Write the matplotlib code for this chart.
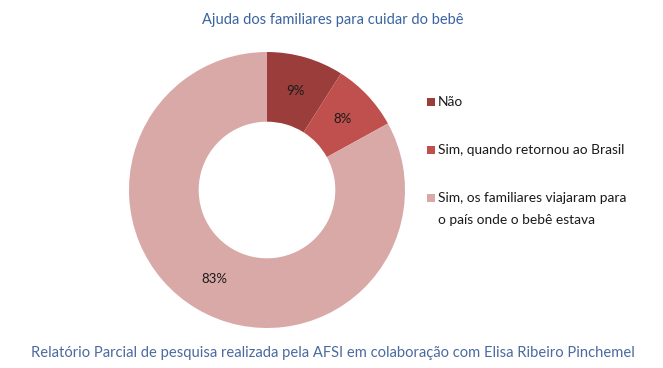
import matplotlib

matplotlib.use("Agg")
import matplotlib.pyplot as plt
from matplotlib.patches import Rectangle

plt.rcParams["font.family"] = ["Lato", "DejaVu Sans"]

# chart data
categories = [
    "Não",
    "Sim, quando retornou ao Brasil",
    "Sim, os familiares viajaram para\no país onde o bebê estava",
]
shares = [9, 8, 83]
pct_labels = ["9%", "8%", "83%"]
colors = ["#9A3D3B", "#C0504D", "#D9A9A8"]

title = "Ajuda dos familiares para cuidar do bebê"
footnote = ("Relatório Parcial de pesquisa realizada pela AFSI em colaboração "
            "com Elisa Ribeiro Pinchemel")

W, H = 663, 368
fig = plt.figure(figsize=(W / 100, H / 100), dpi=100)

# donut centred at (267, 190) px, radius 138 px
cx, cy, r = 267, 190, 138
ax = fig.add_axes([(cx - r) / W, (H - cy - r) / H, 2 * r / W, 2 * r / H])
wedges, texts = ax.pie(
    shares,
    colors=colors,
    startangle=90,
    counterclock=False,
    radius=1.0,
    wedgeprops=dict(width=0.505, edgecolor="none"),
    labels=pct_labels,
    labeldistance=0.75,
    textprops=dict(fontsize=9.5, color="#1a1a1a", ha="center", va="center"),
)
ax.set_xlim(-1, 1)
ax.set_ylim(-1, 1)
ax.set_aspect("equal")
ax.axis("off")

fig.text(333 / W, 1 - 20 / H, title, ha="center", va="center",
         fontsize=10.5, color="#3A64A0")
fig.text(333 / W, 1 - 353 / H, footnote, ha="center", va="center",
         fontsize=10.6, color="#4A6A9E")

# legend drawn by hand so the square sits on the first line of each entry
for i, (label, color) in enumerate(zip(categories, colors)):
    y = 102 + 48 * i
    fig.add_artist(Rectangle((427 / W, 1 - (y + 4) / H), 8 / W, 8 / H,
                             facecolor=color, edgecolor="none",
                             transform=fig.transFigure))
    fig.text(438 / W, 1 - (y - 6) / H, label, ha="left", va="top",
             fontsize=9.9, color="#1a1a1a", linespacing=1.95)

fig.savefig("out.png", dpi=100, facecolor="white")
